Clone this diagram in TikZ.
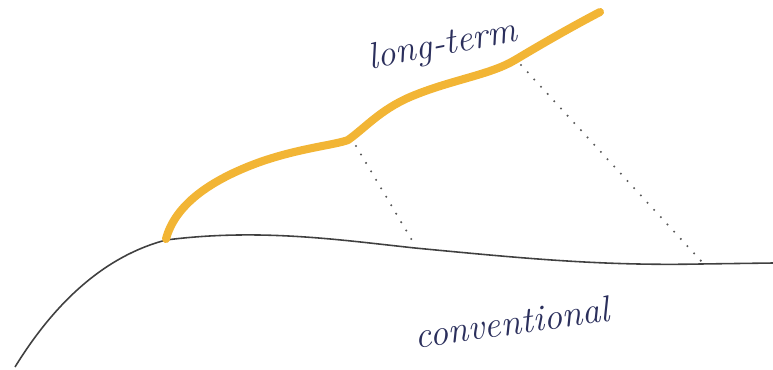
\documentclass[tikz,border=0pt]{standalone}
\usetikzlibrary{positioning}
\definecolor{penink}{HTML}{2B2F5C}
\definecolor{marker}{HTML}{F2B535}
\tikzset{
  hand/.style={font=\itshape\fontsize{21}{24}\selectfont,text=penink,inner sep=0pt},
  longline/.style={marker,line width=4.6pt,line cap=round,line join=round},
  convline/.style={black!75,line width=0.9pt},
  gapline/.style={black!65,line width=1.3pt,line cap=round,dash pattern=on 0pt off 5.6pt}
}
\begin{document}
\begin{tikzpicture}[x=0.02cm,y=-0.02cm]
  \useasboundingbox (0,0) rectangle (773,369);

  % conventional curve
  \draw[convline] (15,367) .. controls (55,302) and (105,256) .. (166,240)
    .. controls (260,228) and (340,240) .. (415,248)
    .. controls (520,258) and (600,266) .. (700,264)
    -- (773,263);

  % long-term curve
  \draw[longline] (166,239) .. controls (175,205) and (210,180) .. (260,162)
    .. controls (300,148) and (335,145) .. (348,140)
    .. controls (365,128) and (380,110) .. (410,97)
    .. controls (450,80) and (490,75) .. (515,60)
    .. controls (545,42) and (575,25) .. (600,12);

  % gaps between the two
  \coordinate (bumpA) at (356,146);
  \coordinate (footA) at (416,247);
  \coordinate (bumpB) at (521,65);
  \coordinate (footB) at (702,262);
  \draw[gapline] (bumpA) -- (footA);
  \draw[gapline] (bumpB) -- (footB);

  % labels
  \node[hand,rotate=11] (longterm) at (443,46) {long-term};
  \node[hand,rotate=8] (conv) at (512,322) {conventional};
\end{tikzpicture}
\end{document}
